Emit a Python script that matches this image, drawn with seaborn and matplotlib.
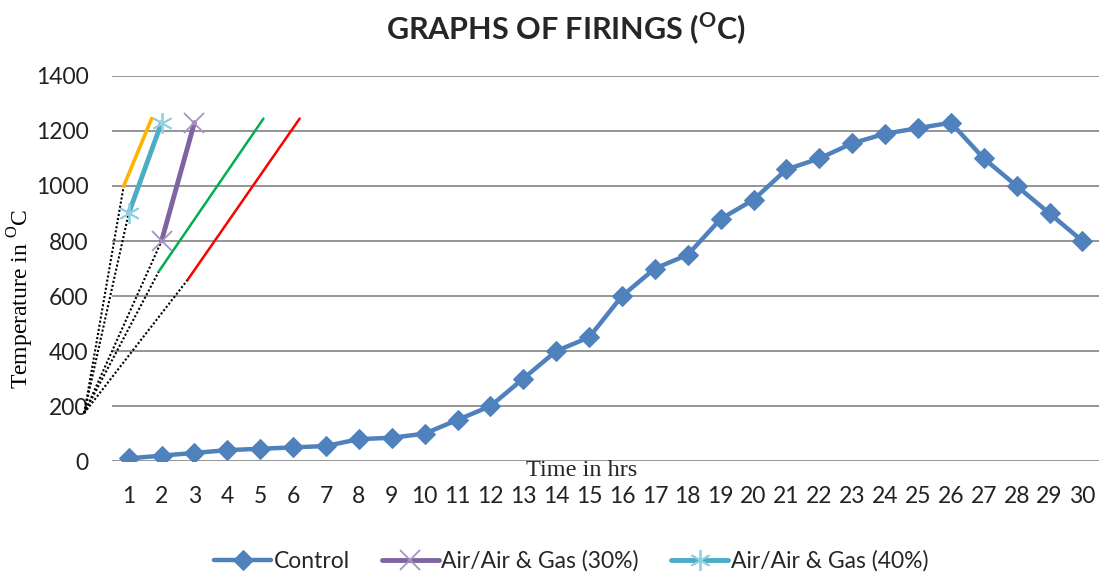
import matplotlib
matplotlib.use("Agg")
import matplotlib.pyplot as plt
import seaborn as sns
import pandas as pd

# ---- data ----
hours = list(range(1, 31))
control = [10, 20, 30, 40, 45, 50, 55, 80, 85, 100, 150, 200, 300, 400, 450,
           600, 700, 750, 880, 950, 1060, 1100, 1155, 1190, 1210, 1230, 1100,
           1000, 900, 800]
air30_x = [2, 3]
air30_y = [800, 1230]
air40_x = [1, 2]
air40_y = [900, 1230]
# unlabelled annotation strokes
orange_x = [0.85, 1.70]
orange_y = [1000, 1245]
green_x = [1.92, 5.10]
green_y = [690, 1245]
red_x = [2.80, 6.20]
red_y = [660, 1245]
origin_x = -0.35
origin_y = 175
x_ticks = hours
y_ticks = [0, 200, 400, 600, 800, 1000, 1200, 1400]

sns.set_theme(style="white")
plt.rcParams["font.family"] = ["Lato", "DejaVu Sans"]
plt.rcParams["mathtext.fontset"] = "custom"
plt.rcParams["mathtext.rm"] = "Liberation Serif"
plt.rcParams["mathtext.bf"] = "Lato:bold"

BLUE = "#4F81BD"
PURPLE = "#8064A2"
CYAN = "#4BACC6"

fig = plt.figure(figsize=(11, 5.75), dpi=100)
ax = fig.add_axes([0.102, 0.198, 0.897, 0.67])

df = pd.DataFrame({"hours": hours, "control": control})
sns.lineplot(data=df, x="hours", y="control", ax=ax, color=BLUE, lw=3.2,
             marker="D", markersize=10, markeredgecolor=BLUE, label="Control",
             zorder=5)
sns.lineplot(x=air30_x, y=air30_y, ax=ax, color=PURPLE, lw=3.5, marker="x",
             markersize=15, markeredgecolor="#A594C0", markeredgewidth=1.3,
             label="Air/Air & Gas (30%)", zorder=5)
sns.lineplot(x=air40_x, y=air40_y, ax=ax, color=CYAN, lw=3.5, marker=(6, 2, 0),
             markersize=15, markeredgecolor="#8FD0E2", markeredgewidth=1.3,
             label="Air/Air & Gas (40%)", zorder=5)
sns.lineplot(x=orange_x, y=orange_y, ax=ax, color="#FFB300", lw=2.6, legend=False, zorder=4)
sns.lineplot(x=green_x, y=green_y, ax=ax, color="#00B050", lw=1.8, legend=False, zorder=4)
sns.lineplot(x=red_x, y=red_y, ax=ax, color="#FF0000", lw=1.8, legend=False, zorder=4)

for sx, sy in [(orange_x[0], orange_y[0]), (air40_x[0], air40_y[0]),
               (air30_x[0], air30_y[0]), (green_x[0], green_y[0]),
               (red_x[0], red_y[0])]:
    ax.plot([origin_x, sx], [origin_y, sy], color="black", lw=1.5,
            linestyle=(0, (1, 1)), clip_on=False, zorder=3)

ax.set_xlim(0.5, 30.5)
ax.set_ylim(0, 1400)
ax.set_xticks(x_ticks)
ax.set_yticks(y_ticks)
ax.set_xticklabels([str(v) for v in x_ticks])
ax.set_yticklabels([str(v) for v in y_ticks])
ax.tick_params(axis="x", length=0, pad=18, labelsize=16.5, colors="#222222")
ax.tick_params(axis="y", length=0, pad=17, labelsize=16.5, colors="#222222")
ax.grid(axis="y", color="#8C8C8C", lw=1.3)
ax.grid(axis="x", visible=False)
for s in ax.spines.values():
    s.set_visible(False)

ax.set_xlabel("")
ax.set_ylabel(r"Temperature in $^{\mathrm{O}}$C", fontfamily="Liberation Serif",
              fontsize=17, color="black")
ax.yaxis.set_label_coords(-0.077, 0.42)
fig.text(582 / 1100, 1 - 471 / 575, "Time in hrs", fontfamily="Liberation Serif",
         fontsize=17.5, ha="center", va="center")

fig.text(566 / 1100, 1 - 28 / 575, r"GRAPHS OF FIRINGS ($^{\mathbf{O}}$C)",
         fontsize=22, fontweight="bold", ha="center", va="center")

ax.get_legend().remove()
handles, labels = ax.get_legend_handles_labels()
fig.legend(handles, labels, loc="center", bbox_to_anchor=(571 / 1100, 1 - 561 / 575),
           ncol=3, frameon=False, fontsize=16.5, handlelength=2.5, handletextpad=0.1,
           columnspacing=1.4, borderaxespad=0)

fig.savefig("out.png", dpi=100)
